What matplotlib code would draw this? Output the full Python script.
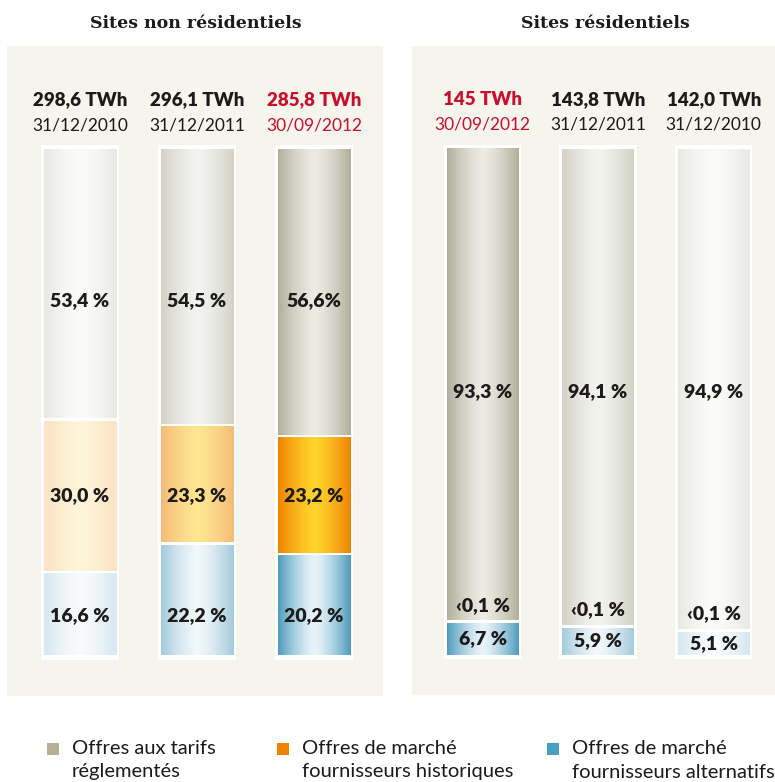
import numpy as np
import matplotlib
matplotlib.use('Agg')
import matplotlib.pyplot as plt
import matplotlib.patches as patches

# data
nonres_dates = ['31/12/2010', '31/12/2011', '30/09/2012']
nonres_twh = ['298,6 TWh', '296,1 TWh', '285,8 TWh']
nonres_tarifs = [53.4, 54.5, 56.6]
nonres_hist = [30.0, 23.3, 23.2]
nonres_alt = [16.6, 22.2, 20.2]
nonres_lab_tarifs = ['53,4 %', '54,5 %', '56,6%']
nonres_lab_hist = ['30,0 %', '23,3 %', '23,2 %']
nonres_lab_alt = ['16,6 %', '22,2 %', '20,2 %']

res_dates = ['30/09/2012', '31/12/2011', '31/12/2010']
res_twh = ['145 TWh', '143,8 TWh', '142,0 TWh']
res_tarifs = [93.3, 94.1, 94.9]
res_hist = [0.0, 0.0, 0.0]   # < 0,1 %
res_alt = [6.7, 5.9, 5.1]
res_lab_tarifs = ['93,3 %', '94,1 %', '94,9 %']
res_lab_hist = ['‹0,1 %', '‹0,1 %', '‹0,1 %']
res_lab_alt = ['6,7 %', '5,9 %', '5,1 %']

legend_labels = ['Offres aux tarifs\nréglementés',
                 'Offres de marché\nfournisseurs historiques',
                 'Offres de marché\nfournisseurs alternatifs']
legend_colors = ['#b3b093', '#ef8200', '#4a9ebf']

# couleurs (bord, centre) selon l'année : 2010, 2011, 2012
grey_cols = [('#e9e9e3', '#fbfbf9'), ('#d3d2c6', '#f3f3ef'), ('#b2b09b', '#ecebe4')]
orange_cols = [('#fbe2c4', '#fff5d8'), ('#f5bb78', '#ffe690'), ('#ef8400', '#ffd22c')]
blue_cols = [('#d6e8f1', '#f9fbfd'), ('#a3cbdc', '#f2f8fb'), ('#4f9cbd', '#e8f4fa')]

bg = '#f5f4ed'
dark = '#1c1a1a'
red = '#c8102e'
sans = ['Lato', 'DejaVu Sans']
lab_size = 14

W, H = 775, 782
fig = plt.figure(figsize=(W / 100, H / 100), dpi=100)
fig.patch.set_facecolor('white')

BAR_W = 0.62
FRAME_W = 0.67
GAP = 0.3


def gradient(edge, center, n=80):
    e = np.array(matplotlib.colors.to_rgb(edge))
    c = np.array(matplotlib.colors.to_rgb(center))
    t = np.linspace(-1, 1, n)
    w = 1 - np.abs(t) ** 1.4
    return (e[None, :] * (1 - w[:, None]) + c[None, :] * w[:, None])[None, :, :]


def panel(rect, xlim, tarifs, hist, alt, years, twh, dates, red_idx):
    ax = fig.add_axes(rect)
    ax.set_facecolor(bg)
    for s in ax.spines.values():
        s.set_visible(False)
    ax.set_xticks([])
    ax.set_yticks([])
    for i in range(3):
        ax.add_patch(patches.Rectangle((i - FRAME_W / 2, -0.6), FRAME_W, 101.2,
                                       facecolor='white', lw=0, zorder=1))
        y = 0
        for val, cols in ((alt[i], blue_cols), (hist[i], orange_cols), (tarifs[i], grey_cols)):
            if val > 0:
                edge, center = cols[years[i]]
                ax.imshow(gradient(edge, center), aspect='auto', interpolation='bilinear',
                          extent=(i - BAR_W / 2, i + BAR_W / 2, y + GAP, y + val - GAP),
                          zorder=2)
            y += val
        col = red if i == red_idx else dark
        ax.text(i, 109.5, twh[i], ha='center', va='center', fontsize=13.5,
                fontweight='heavy', color=col, family=sans)
        ax.text(i, 104.5, dates[i], ha='center', va='center', fontsize=12.5,
                color=col, family=sans)
    ax.set_xlim(*xlim)
    ax.set_ylim(-7.66, 120.04)
    return ax


def label(ax, x, y, s):
    ax.text(x, y, s, ha='center', va='center', fontsize=lab_size,
            fontweight='heavy', color=dark, family=sans, zorder=3)


# Sites non résidentiels
ax1 = panel([7 / W, 1 - 696 / H, 376 / W, 650 / H], (-0.624, 2.59),
            nonres_tarifs, nonres_hist, nonres_alt, [0, 1, 2],
            nonres_twh, nonres_dates, 2)
for i in range(3):
    label(ax1, i, 70.0, nonres_lab_tarifs[i])
    label(ax1, i, 31.8, nonres_lab_hist[i])
    label(ax1, i, 8.1, nonres_lab_alt[i])

# Sites résidentiels
ax2 = panel([412 / W, 1 - 695 / H, 363 / W, 649 / H], (-0.61, 2.53),
            res_tarifs, res_hist, res_alt, [2, 1, 0],
            res_twh, res_dates, 0)
for i in range(3):
    label(ax2, i, 52.1, res_lab_tarifs[i])
    label(ax2, i, res_alt[i] + res_hist[i] + 3.3, res_lab_hist[i])
    label(ax2, i, res_alt[i] / 2, res_lab_alt[i])

# titres
fig.text(195.5 / W, 1 - 23 / H, 'Sites non résidentiels', ha='center', va='center',
         fontsize=12.5, fontweight='bold', color=dark, family='DejaVu Serif')
fig.text(605.5 / W, 1 - 23 / H, 'Sites résidentiels', ha='center', va='center',
         fontsize=12.5, fontweight='bold', color=dark, family='DejaVu Serif')

# légende
leg_x = [47, 277, 547]
for lx, lab, c in zip(leg_x, legend_labels, legend_colors):
    fig.patches.append(patches.Rectangle((lx / W, 1 - 755 / H), 12 / W, 12 / H,
                                         transform=fig.transFigure, facecolor=c, lw=0))
    line1, line2 = lab.split('\n')
    fig.text((lx + 25) / W, 1 - 749 / H, line1, ha='left', va='center', fontsize=14.5,
             color=dark, family=sans)
    fig.text((lx + 25) / W, 1 - 772 / H, line2, ha='left', va='center', fontsize=14.5,
             color=dark, family=sans)

fig.savefig('out.png', dpi=100, facecolor='white')
